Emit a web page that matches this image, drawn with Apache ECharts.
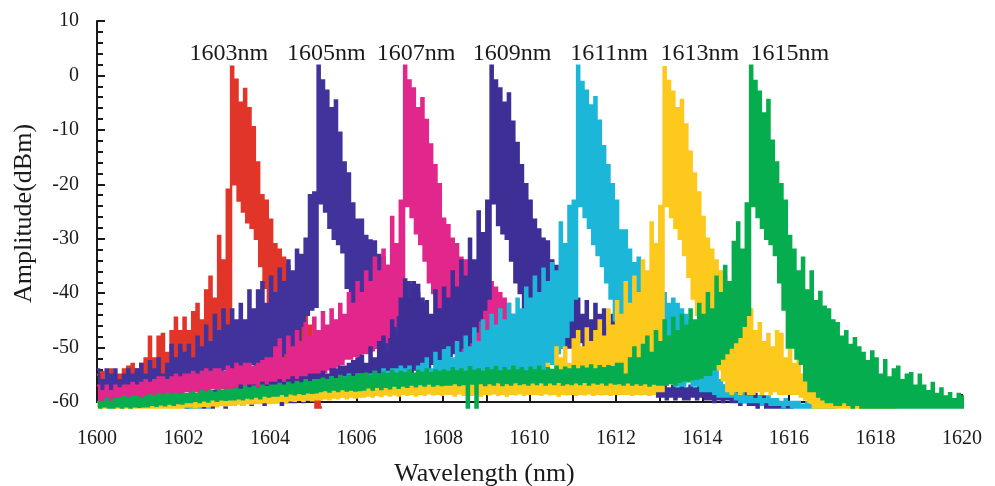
<!DOCTYPE html>
<html><head><meta charset="utf-8">
<style>html,body{margin:0;padding:0;background:#fff}#c{width:995px;height:486px}</style>
<script src="https://cdn.jsdelivr.net/npm/echarts@6/dist/echarts.min.js"></script>
</head><body><div id="c"></div>
<script>
const redStart = 1600;
const redHi = [-55,-54.5,-56,-54,-55,-55,-54,-53.5,-53,-54,-53,
-52,-48,-52,-48,-47.5,-51,-47,-44.5,-47,-44.5,
-47,-43.5,-42,-45,-39.5,-37,-41,-29.5,-34,-21,
1.6,-0.8,-5,-2.5,-6,-9.5,-16,-22,-23,-26.5,-31,-32,-33.5,-35,-37,-40,-42,-44,-46,-50,-50];
const redLo = [-57,-58,-57,-58,-57,-57,-58,-57,-56,-57,-56,
-56,-55,-56,-55,-56,-55,-56,-55,-55,-56,
-55,-54,-54,-53,-54,-53,-52,-52,-50,-48,
-20,-23,-25,-27,-28,-30,-35,-39,-42,-45,-48,-50,-52,-53,-54,-55,-56,-56,-58,-61,-61];

const blueStart = 1600;
const blueHi = [-54,-56,-54,-55,-54,-56,-55,-54,-55,-54,-53,
-55,-52.5,-54,-52,-55,-53,-49.5,-52,-49.5,-51,
-49.5,-52,-48,-50,-46,-49,-44,-47,-43,-46,
-43,-45,-42,-45,-39.5,-43,-39.5,-38,-42,-37,
-40,-35.5,-38,-34,-36,-32,-33,-30,-22,-21.5,
1.8,-0.9,-2.8,-6,-4.6,-10.5,-16,-18,-23.5,-26.5,-26.5,-29.5,-30.3,-30.5,-33,-33.5,-35,-36,-37,-37.5,-38,-38,-38.5,-40,-41];
const blueLo = [-59,-59,-58,-59,-58,-59,-58,-58,-57,-58,-57,
-57,-58,-57,-56,-57,-57,-56,-57,-56.5,-57,
-56.5,-57,-56,-56.5,-56,-55,-56,-55,-54,-54,
-54,-53.5,-54,-53.5,-53,-53.5,-53,-54,-53,-52,
-52,-52,-51,-51,-50,-49,-46,-44,-43,-42.5,
-23.5,-25,-28,-30,-31,-32.5,-39,-42,-44,-46,-47,-48,-49,-50,-50,-51,-52,-52,-52,-53,-53,-53,-54,-54,-54];

const magentaStart = 1600;
const magentaHi = [-57,-58,-57,-58,-57,-57.5,-57,-57,-56.5,-57,-56.5,
-56,-56.5,-56,-55.5,-55.5,-56,-55.5,-55,-55.5,-55,
-55,-54.5,-55,-54.5,-54,-54.5,-54,-54,-54.5,-53.5,
-54,-53,-53.5,-53,-53,-53.5,-53,-52.5,-52,-52,
-50,-48.5,-52,-48,-50,-47,-49,-45.5,-48,-44.5,
-47,-43.5,-46,-43,-45,-42,-44,-40,-42,-38,
-40,-36,-38,-33.5,-36,-32,-35,-26,-31,-23,
1.8,-0.9,-2.4,-6,-4.2,-8.2,-12.7,-16.5,-20,-26.3,
-27.5,-30,-31,-33.5,-34,-36,-37,-37,-38,-38,
-38,-39,-40,-41,-42,-44,-46,-47,-48,-50];
const magentaLo = [-60.5,-60,-60.5,-60,-60.5,-60,-60,-60.5,-60,-60,-60,
-60,-59,-60,-59,-59.5,-59,-59,-58.5,-59,-58,
-58.5,-58,-58.5,-58,-58,-57.5,-58,-57.5,-58,-57.5,
-58,-57.5,-58,-57.5,-57.5,-58,-57.5,-57.5,-57,-57.5,
-57,-57,-56.5,-57,-56,-56.5,-56,-56,-55.5,-56,
-55,-54.5,-54,-54,-53.5,-53,-52,-52,-51.5,-52,
-51,-51,-50.5,-50,-49.5,-49,-48,-46,-44,-43,
-24,-26,-29,-31,-34,-38,-40,-43,-46,-48,
-50,-50,-51,-52,-52,-53,-53,-54,-54,-54,
-50,-50,-51,-52,-53,-54,-55,-55,-56,-56];

const purpleStart = 1602;
const purpleHi = [-59,-59.5,-59,-59,-58.5,-58.5,-59,-58,-58.5,-58,-58,
-58,-57.5,-57,-57.5,-57,-57,-57.5,-56.5,-57,-56.5,
-56.5,-56,-56.5,-56,-55.5,-56,-55.5,-55.5,-55,-55,
-55,-54.5,-55,-54,-54,-53.5,-53.5,-53,-52.5,-52,
-51.5,-53,-50,-52,-49,-48,-51,-45,-48,-41,
-37.5,-41,-38,-38.5,-42,-41.5,-44,-39.5,-43,-39,
-41,-36,-39,-34,-37,-30,-34,-25,-29,-23,
1.8,-0.9,-2.4,-5,-3.3,-8.5,-12.4,-16.5,-20,-23,
-26.5,-28.3,-30,-30.5,-34,-35,-36,-37,-38,-40,
-41,-44,-41.5,-45,-42,-44,-43,-46,-44,-47,
-47,-48,-50,-52,-53,-55,-56,-56,-57,-57,
-57,-57.5,-57,-57.5,-57,-57.5,-57,-57.5,-57,-57.5,
-57,-57.5,-57,-57.5,-57,-57.5,-57.5,-58,-57.5,-58,
-58,-58.5,-59,-59,-59.5,-60,-60,-60.5,-60.5,-60.5];
const purpleLo = [-61,-60.5,-61,-60.5,-61,-60.5,-61,-60.5,-60.5,-61,-60.5,
-60.5,-60,-60.5,-60,-60.5,-60,-60,-60.5,-60,-60,
-60,-60.5,-60,-60,-60,-59.5,-60,-59.5,-59.5,-59,
-59,-58.5,-59,-58.5,-58,-58.5,-58,-57.5,-58,-57.5,
-57,-57,-56.5,-56.5,-56,-56,-55.5,-55,-55,-55,
-55,-54.5,-54,-54.5,-54,-54,-53,-53,-52.5,-52,
-51.5,-51,-51,-50,-50,-49,-47,-45,-43,-41,
-23.5,-27.5,-29,-30,-34,-38,-40,-43,-45,-46,
-47,-48,-49,-50,-50,-50,-50,-50,-50,-50,
-49,-50,-50,-49,-50,-50,-51,-50,-51,-51,
-52,-52,-53,-54,-55,-57,-58,-58.5,-59,-59,
-59.5,-59,-59.5,-59,-59.5,-59.5,-59,-59.5,-59,-59.5,
-59.5,-60,-59.5,-60,-59.5,-60,-60,-60.5,-60,-60.5,
-60.5,-61,-60.5,-61,-61,-61,-61,-61,-61,-61];

const cyanStart = 1602;
const cyanHi = [-60.5,-60,-60,-60.5,-59.5,-60,-59.5,-59.5,-59,-59.5,-59,
-59,-58.5,-59,-58.5,-58,-58.5,-58,-58,-57.5,-58,
-57.5,-57,-57.5,-57,-57,-56.5,-57,-56.5,-56.5,-56,
-56.5,-56,-56,-55.5,-56,-55.5,-55.5,-55,-55.5,-55,
-55,-55.5,-55,-54.5,-55,-54,-54.5,-54,-54,-53.5,
-54,-53.5,-55,-53.5,-53,-52,-54,-51,-52.5,-50.5,
-50,-52,-49,-51,-48,-50,-46.5,-49,-45,-47,
-44,-46,-43,-45,-42,-44,-41,-43,-39,-41,
-37,-40,-35.5,-38,-34.5,-36,-27,-31,-24,-23,
1.8,-1.2,-2.8,-5.5,-4,-8.3,-13,-16.5,-20,-23,
-28.5,-28.5,-32,-34.5,-33.5,-36,-37,-38,-39,-39.5,
-40,-42,-41,-42,-43,-44,-45,-46,-46,-48,
-50,-52,-54,-56,-57,-57,-58,-58.5,-58,-59,
-59,-59.5,-59,-59.5,-59,-59.5,-59.5,-60,-59.5,-60,
-60,-60,-60.5,-60,-60.5,-60.5,-61,-60.5,-61,-61];
const cyanLo = [-61,-61,-61,-61,-60.5,-61,-60.5,-60.5,-60.5,-60.5,-60.5,
-60.5,-60,-60.5,-60,-60,-60,-60,-59.5,-60,-59.5,
-59.5,-59.5,-59,-59.5,-59,-59,-58.5,-59,-58.5,-58.5,
-58.5,-58,-58.5,-58,-58,-58,-57.5,-58,-57.5,-57.5,
-57.5,-57,-57.5,-57,-57,-57,-56.5,-57,-56.5,-56.5,
-56.5,-56,-56.5,-56,-56,-56,-55.5,-56,-55.5,-55.5,
-55.5,-56,-55.5,-55.5,-55,-55.5,-55,-55,-55.5,-55,
-55,-55,-55.5,-55,-55,-55,-55.5,-55,-55,-55,
-55,-54,-54,-53,-53,-51,-50,-48,-45,-41,
-24,-26,-28,-31,-33,-35,-38,-41,-45,-48,
-50,-51,-52,-53,-54,-54,-55,-55,-56,-56,
-56,-56,-57,-57,-57,-56,-57,-57,-58,-58,
-58,-58.5,-59,-59,-59,-59,-59.5,-60,-60,-60,
-60,-60,-60.5,-60,-60.5,-60.5,-60.5,-61,-60.5,-61,
-61,-61,-61,-61,-61,-61,-61,-61,-61,-61];

const yellowStart = 1600;
const yellowHi = [-60.7,-61,-60.7,-60.8,-60.5,-60.7,-60.5,-60.8,-60.5,-60.5,-60.5,
-60.5,-60.3,-60.5,-60,-60.3,-60,-60.3,-60,-60.2,-60,
-60,-59.8,-60,-59.8,-59.5,-59.8,-59.5,-59.7,-59.5,-59.5,
-59.5,-59.3,-59.5,-59,-59.3,-59,-59.2,-58.8,-59,-58.8,
-58.8,-58.5,-58.8,-58.3,-58.5,-58.3,-58.5,-58,-58.3,-58,
-58,-57.8,-58,-57.5,-57.8,-57.5,-57.8,-57.3,-57.5,-57.4,
-57.4,-57.2,-57.5,-57,-57.3,-57,-57.2,-57,-56.8,-57,
-57,-56.7,-57,-56.6,-56.9,-56.6,-56.8,-56.5,-56.8,-56.6,
-56.6,-56.9,-56.5,-56.8,-56.6,-56.9,-56.6,-56.8,-56.7,-56.7,
-56.5,-56.9,-56.7,-56.5,-56.8,-56.6,-56.9,-56.5,-56.7,-56.5,
-55.5,-57,-54.5,-53,-55,-50,-52,-50,-53,-48.5,
-47,-50,-46.5,-49,-47,-45,-48,-43,-46,-41.5,
-44,-38,-42,-37,-40,-34,-36,-27,-31,-24,
1.5,-1,-3,-6,-4.5,-9,-14,-18,-21.5,-26,
-30,-32,-34,-36,-37,-38,-38.5,-39.5,-41,-42,
-43,-47,-45.5,-49,-47.5,-50,-47,-47.5,-52,-50,
-53,-52,-55,-52,-56,-53.5,-57.5,-55,-58,-57,
-58.5,-58.5,-59,-59.5,-59,-59.5,-60,-60,-60,-60.5,
-60.5,-60.5,-61,-61];
const yellowLo = [-61,-61,-61,-61,-61,-61,-61,-61,-61,-61,-61,
-61,-61,-61,-61,-61,-61,-61,-61,-61,-60.8,
-60.8,-61,-60.8,-60.7,-60.8,-60.6,-60.8,-60.5,-60.6,-60.5,
-60.5,-60.3,-60.5,-60.2,-60.3,-60,-60.2,-60,-60.2,-60,
-60,-59.8,-60,-59.7,-59.8,-59.6,-59.8,-59.5,-59.7,-59.5,
-59.5,-59.3,-59.5,-59.2,-59.3,-59,-59.3,-59,-59.2,-59,
-59,-58.8,-59,-58.7,-58.9,-58.6,-58.8,-58.6,-58.8,-58.5,
-58.7,-58.5,-58.8,-58.5,-58.7,-58.4,-58.6,-58.5,-58.7,-58.5,
-58.5,-58.8,-58.4,-58.7,-58.5,-58.7,-58.4,-58.8,-58.5,-58.6,
-58.4,-58.7,-58.5,-58.8,-58.5,-58.6,-58.4,-58.7,-58.5,-58.5,
-58.5,-58.7,-58.4,-58.6,-58.5,-58.8,-58.5,-58.6,-58.5,-58.7,
-58.5,-58.6,-58.4,-58.7,-58.5,-58.6,-58.5,-58.7,-58.5,-58.5,
-58.5,-58.5,-58.7,-58.5,-58.6,-58.5,-58.7,-58.5,-58,-58,
-24,-26,-28,-30,-33,-37,-41,-44,-46,-48,
-50,-52,-54,-56,-58,-58.5,-58,-58.5,-58,-58.5,
-58.5,-58,-58.5,-58,-58.5,-58,-58.5,-58.5,-58.5,-58.5,
-58.5,-59,-59.5,-60,-61,-61,-61,-61,-61,-61,
-61,-61,-61,-61,-61,-61,-61,-61,-61,-61,
-61,-61,-61,-61];

const greenStart = 1600;
const greenHi = [-60,-60,-59.5,-60,-59.5,-59.5,-59,-59.5,-59,-59,-59.5,
-59,-58.8,-59,-58.5,-58.8,-58.5,-58.7,-58.5,-58.7,-58.5,
-58.5,-58.2,-58.5,-58,-58.2,-58,-58.3,-57.8,-58,-57.8,
-57.8,-57.5,-57.8,-57.2,-57.5,-57.2,-57.5,-57,-57.3,-57,
-57,-56.7,-57,-56.5,-56.8,-56.3,-56.6,-56,-56.4,-56,
-56,-55.7,-56,-55.5,-55.8,-55.2,-55.6,-55.2,-55.5,-55,
-55,-54.8,-55.2,-54.5,-55,-54.6,-54.9,-54.3,-54.8,-54.5,
-54.7,-54.2,-54.8,-54.3,-54.6,-54,-54.7,-54.2,-54.5,-54.2,
-54.5,-53.8,-54.4,-54,-54.5,-53.6,-54.3,-54,-54.5,-53.8,
-54.2,-53.6,-54.4,-53.8,-54.3,-53.5,-54.2,-53.8,-54.4,-53.7,
-54.2,-53.5,-54.3,-53.8,-54.1,-53.5,-54.2,-53.7,-54,-53.4,
-54,-53.5,-53.9,-53.3,-54,-53.4,-53.8,-53.4,-53.6,-53,
-53,-55,-52,-50,-52,-49.5,-48,-51,-47,-49,
-45,-48,-44.5,-47,-44,-46,-43,-45,-42,-44,
-40,-43,-37,-40,-35,-38,-30.6,-27,-32,-23.5,
1.8,-1,-3,-7,-4.5,-12,-16,-20,-23,-29.5,
-32,-36,-33.5,-39.5,-36,-41.5,-39.8,-42.5,-43,-45,
-45.5,-48,-47,-49.5,-48.3,-50,-51,-52.5,-50.7,-52,
-55,-52.3,-55.5,-54,-53.5,-56,-55,-54.7,-57,-55,
-57,-58,-56.5,-58.5,-57.5,-59,-58.4,-59.5,-58.5,-59];
const greenLo = [-61,-60.8,-61,-61,-60.8,-61,-60.8,-61,-60.8,-60.9,-60.8,
-60.8,-60.5,-60.7,-60.4,-60.6,-60.3,-60.5,-60.2,-60.3,-60,
-60,-59.8,-60,-59.7,-59.9,-59.5,-59.8,-59.5,-59.6,-59.5,
-59.5,-59.3,-59.5,-59.2,-59.3,-59,-59.3,-58.8,-59,-58.8,
-58.8,-58.5,-58.8,-58.4,-58.6,-58.3,-58.5,-58.2,-58.3,-58.2,
-58,-57.8,-58.1,-57.7,-58,-57.6,-57.9,-57.7,-57.9,-57.8,
-57.7,-57.3,-57.7,-57.2,-57.6,-57.2,-57.5,-57,-57.4,-57,
-57.2,-56.8,-57.1,-56.7,-57,-56.6,-57,-56.7,-56.9,-56.8,
-56.8,-56.5,-56.9,-56.7,-61,-56.6,-61,-56.5,-56.9,-56.5,
-56.8,-56.4,-56.9,-56.5,-56.8,-56.4,-56.7,-56.5,-56.8,-56.4,
-56.7,-56.4,-56.8,-56.4,-56.7,-56.3,-56.8,-56.5,-56.7,-56.4,
-56.7,-56.3,-56.8,-56.4,-56.6,-56.4,-56.8,-56.4,-56.6,-56.5,
-56.8,-56.4,-56.8,-56.5,-56.8,-56.5,-57,-56.6,-56.8,-56.8,
-56.8,-56.5,-56.8,-56.3,-56,-56.2,-55.8,-55.7,-55.5,-55,
-55,-54,-53,-52,-51,-50,-49,-48,-46,-44,
-24,-26,-28,-30,-31,-33,-38,-43,-50,-50,
-52,-53,-56,-58,-58,-59,-59.5,-60,-60,-60.5,
-60.5,-60,-60.5,-61,-60.5,-61,-61,-61,-61,-61,
-61,-61,-61,-61,-61,-61,-61,-61,-61,-61,
-61,-61,-61,-61,-61,-61,-61,-61,-61,-61];

const peakLabels = ['1603nm','1605nm','1607nm','1609nm','1611nm','1613nm','1615nm'];
const peakLabelX = [1603.05,1605.3,1607.38,1609.6,1611.84,1613.94,1616.02];
const peakLabelY = [4,4,4,4,4,4,4];
const toothStep = 0.1;

function comb(start, hi, lo) {
  const pts = [];
  hi.forEach((h, i) => {
    const x = start + i * toothStep;
    const mid = x + toothStep / 2;
    pts.push([x, h], [mid, h], [mid, lo[i]], [x + toothStep, lo[i]]);
  });
  return pts;
}
function lineSeries(name, color, start, hi, lo) {
  return { name, type:'line', data:comb(start,hi,lo), showSymbol:false, symbol:'none', clip:false,
    animation:false, lineStyle:{color, width:2.4, join:'miter', cap:'butt'}, itemStyle:{color} };
}
const serif = '"Liberation Serif","Times New Roman",serif';
const chart = echarts.init(document.getElementById('c'), null, {renderer:'canvas'});
chart.setOption({
  animation:false,
  backgroundColor:'#fff',
  grid:{left:97, right:33, top:21, bottom:84, outerBoundsMode:'none'},
  xAxis:{type:'value', min:1600, max:1620, interval:2,
    axisLine:{onZero:false, lineStyle:{color:'#1a1a1a', width:2}},
    axisTick:{inside:true, length:8, lineStyle:{color:'#1a1a1a', width:2}},
    minorTick:{show:true, splitNumber:2, length:8, lineStyle:{color:'#1a1a1a', width:2}},
    splitLine:{show:false},
    axisLabel:{color:'#1a1a1a', fontFamily:serif, fontSize:20, margin:27, formatter:v=>String(v), hideOverlap:false},
    name:'Wavelength (nm)', nameLocation:'middle', nameGap:59,
    nameTextStyle:{color:'#1a1a1a', fontFamily:serif, fontSize:26, padding:[0,90,0,0]}},
  yAxis:{type:'value', min:-60, max:10, interval:10,
    axisLine:{onZero:false, lineStyle:{color:'#1a1a1a', width:2}},
    axisTick:{inside:true, length:8, lineStyle:{color:'#1a1a1a', width:2}},
    minorTick:{show:true, splitNumber:5, length:6, lineStyle:{color:'#1a1a1a', width:2}},
    splitLine:{show:false},
    axisLabel:{color:'#1a1a1a', fontFamily:serif, fontSize:20, margin:18},
    name:'Amplitude(dBm)', nameLocation:'middle', nameGap:60, nameRotate:90,
    nameTextStyle:{color:'#1a1a1a', fontFamily:serif, fontSize:26, padding:[0,4,0,0]}},
  series:[
    lineSeries('1603nm','#e2352a',redStart,redHi,redLo),
    lineSeries('1605nm','#41339b',blueStart,blueHi,blueLo),
    lineSeries('1607nm','#e1278c',magentaStart,magentaHi,magentaLo),
    lineSeries('1609nm','#3e2f96',purpleStart,purpleHi,purpleLo),
    lineSeries('1611nm','#1cb7d8',cyanStart,cyanHi,cyanLo),
    lineSeries('1613nm','#fdc91c',yellowStart,yellowHi,yellowLo),
    lineSeries('1615nm','#06ad4e',greenStart,greenHi,greenLo),
    { type:'scatter', symbolSize:0, clip:false, silent:true, itemStyle:{opacity:1},
      data:peakLabels.map((t,i)=>({value:[peakLabelX[i],peakLabelY[i]], name:t})),
      label:{show:true, position:'inside', formatter:p=>p.name, color:'#1a1a1a', fontFamily:serif, fontSize:24} }
  ]
});
</script></body></html>
